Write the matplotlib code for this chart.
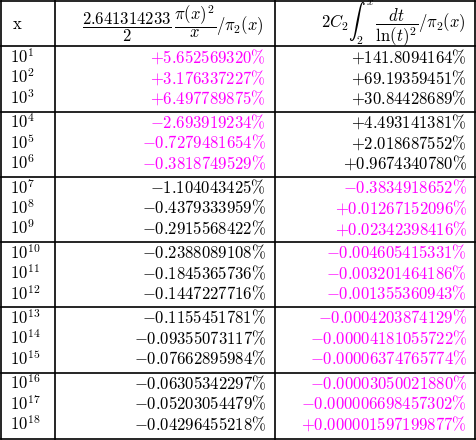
import matplotlib
matplotlib.use("Agg")
import matplotlib.pyplot as plt
from matplotlib.lines import Line2D

plt.rcParams['mathtext.fontset'] = 'cm'

exponents = list(range(1, 19))
col1 = ["+5.652569320", "+3.176337227", "+6.497789875", "-2.693919234", "-0.7279481654", "-0.3818749529",
        "-1.104043425", "-0.4379333959", "-0.2915568422", "-0.2388089108", "-0.1845365736", "-0.1447227716",
        "-0.1155451781", "-0.09355073117", "-0.07662895984", "-0.06305342297", "-0.05203054479", "-0.04296455218"]
col2 = ["+141.8094164", "+69.19359451", "+30.84428689", "+4.493141381", "+2.018687552", "+0.9674340780",
        "-0.3834918652", "+0.01267152096", "+0.02342398416", "-0.004605415331", "-0.003201464186", "-0.001355360943",
        "-0.0004203874129", "-0.00004181055722", "-0.00006374765774", "-0.00003050021880", "-0.000006698457302",
        "+0.000001597199877"]
col1_magenta = 6
col2_magenta_from = 6

W, H = 476, 440
fig = plt.figure(figsize=(W/100, H/100), dpi=100)
ax = fig.add_axes([0, 0, 1, 1])
ax.set_xlim(0, W); ax.set_ylim(H, 0); ax.axis('off')

def hl(y, x0=1, x1=475):
    ax.add_line(Line2D([x0, x1], [y, y], color='black', lw=1.2))

xs = [1, 55, 275, 475]
for x in xs:
    ax.add_line(Line2D([x, x], [1, 439], color='black', lw=1.2))
hl(1); hl(46.5); hl(439)
for g in range(1, 6):
    hl(46.5 + 65.25*g)

fs = 12
ax.text(12, 24, r'$\mathrm{x}$', fontsize=fs, va='center', ha='left')
ax.text(264, 24, r'$\dfrac{2.641314233}{2}\,\dfrac{\pi(x)^2}{x}/\pi_2(x)$', fontsize=fs, va='center', ha='right')
ax.text(466, 24, r'$2C_2\int_{2}^{x}\,\dfrac{dt}{\ln(t)^2}/\pi_2(x)$', fontsize=fs, va='center', ha='right')

def fmt(s):
    sign = '+' if s[0] == '+' else '-'
    return r'$' + sign + s[1:] + r'\%$'

for i, e in enumerate(exponents):
    g, r = divmod(i, 3)
    y = 46.5 + 65.25*g + 11 + r*20.5
    ax.text(10, y, r'$10^{%d}$' % e, fontsize=fs, va='center', ha='left')
    c1 = '#ff00ff' if i < col1_magenta else 'black'
    c2 = '#ff00ff' if i >= col2_magenta_from else 'black'
    ax.text(266, y, fmt(col1[i]), fontsize=fs, va='center', ha='right', color=c1)
    ax.text(467, y, fmt(col2[i]), fontsize=fs, va='center', ha='right', color=c2)

fig.savefig('out.png', dpi=100, facecolor='white')
